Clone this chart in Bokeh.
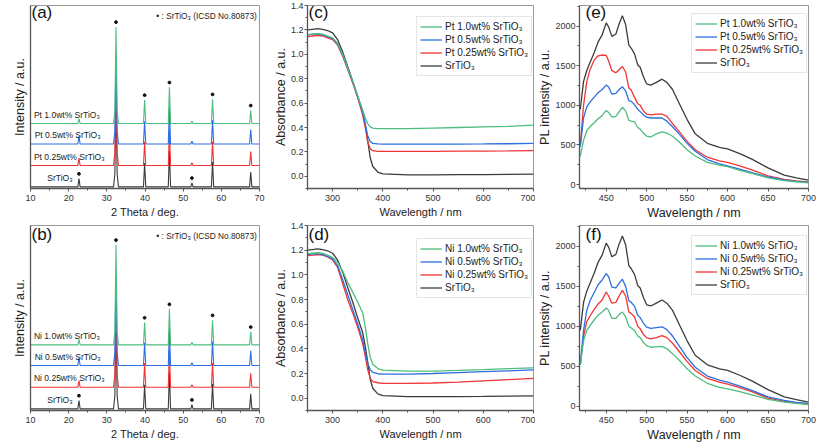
from bokeh.plotting import figure
from bokeh.layouts import gridplot
from bokeh.models import Range1d, FixedTicker, PrintfTickFormatter, Label, Legend, LegendItem
from bokeh.embed import file_html
from bokeh.resources import INLINE
from bokeh.core.properties import value

FONT = "Liberation Sans"
C_GREEN = "#4cbd7e"
C_BLUE = "#2c6fe0"
C_RED = "#ef3535"
C_BLACK = "#3c3c3c"

# ---------------- XRD data ----------------
xrd_2theta = [10, 22.4, 22.7, 23.0, 31.75, 32.1, 32.4, 32.7, 33.05, 39.6, 39.9, 40.2,
              46.1, 46.4, 46.7, 52.0, 52.3, 52.6, 57.4, 57.7, 58.0, 67.4, 67.7, 68.0, 70]
xrd_offsets = [0.9, 12.6, 24.3, 35.5]  # SrTiO3, 0.25, 0.5, 1.0 stack offsets
xrd_black = [0, 0, 4.5, 0, 0, 7, 48, 7, 0, 0, 13, 0, 0, 20, 0, 0, 2.2, 0, 0, 13.5, 0, 0, 8.1, 0, 0]
xrd_pt025 = [0, 0, 4.0, 0, 0, 7, 46, 7, 0, 0, 13, 0, 0, 20, 0, 0, 1.5, 0, 0, 13, 0, 0, 7.6, 0, 0]
xrd_pt05 = [0, 0, 4.3, 0, 0, 7, 47, 7, 0, 0, 12.5, 0, 0, 20, 0, 0, 1.5, 0, 0, 13, 0, 0, 7.9, 0, 0]
xrd_pt10 = [0, 0, 2.7, 0, 0, 7, 52.8, 7, 0, 0, 12.9, 0, 0, 19.8, 0, 0, 1.2, 0, 0, 13.3, 0, 0, 7.2, 0, 0]
xrd_ni025 = [0, 0, 3.5, 0, 0, 7, 46, 7, 0, 0, 13, 0, 0, 20, 0, 0, 1.3, 0, 0, 13, 0, 0, 7.5, 0, 0]
xrd_ni05 = [0, 0, 4.5, 0, 0, 7, 47, 7, 0, 0, 12.5, 0, 0, 20, 0, 0, 1.6, 0, 0, 13, 0, 0, 8.0, 0, 0]
xrd_ni10 = [0, 0, 3.0, 0, 0, 7, 54, 7, 0, 0, 12, 0, 0, 19.3, 0, 0, 1.3, 0, 0, 13.3, 0, 0, 7.0, 0, 0]
xrd_top_dot_idx = [6, 10, 13, 19, 22]
xrd_black_dot_idx = [2, 16]
xrd_labels_pt = ["SrTiO\u2083", "Pt 0.25wt% SrTiO\u2083", "Pt 0.5wt% SrTiO\u2083", "Pt 1.0wt% SrTiO\u2083"]
xrd_labels_ni = ["SrTiO\u2083", "Ni 0.25wt% SrTiO\u2083", "Ni 0.5wt% SrTiO\u2083", "Ni 1.0wt% SrTiO\u2083"]
xrd_label_x = [14.4, 10.9, 11.1, 10.9]
xrd_ticks = [10, 20, 30, 40, 50, 60, 70]
icsd_note = "\u2022 : SrTiO\u2083 (ICSD No.80873)"

# ---------------- UV-vis absorbance ----------------
abs_x = [250, 260, 270, 280, 290, 300, 310, 320, 330, 340, 350, 360, 365, 370, 375, 380,
         390, 400, 450, 500, 550, 600, 650, 700]
abs_sto = [1.20, 1.205, 1.21, 1.205, 1.195, 1.175, 1.12, 1.02, 0.90, 0.78, 0.65, 0.53, 0.42,
           0.29, 0.15, 0.08, 0.035, 0.02, 0.012, 0.012, 0.013, 0.014, 0.016, 0.018]
abs_pt10 = [1.16, 1.165, 1.17, 1.165, 1.15, 1.135, 1.09, 1.00, 0.89, 0.78, 0.66, 0.54, 0.48,
            0.43, 0.405, 0.395, 0.39, 0.39, 0.39, 0.395, 0.40, 0.405, 0.41, 0.42]
abs_pt05 = [1.16, 1.165, 1.165, 1.16, 1.145, 1.13, 1.085, 0.995, 0.885, 0.775, 0.655, 0.52, 0.43,
            0.33, 0.285, 0.27, 0.265, 0.263, 0.263, 0.263, 0.264, 0.265, 0.267, 0.27]
abs_pt025 = [1.145, 1.15, 1.155, 1.15, 1.135, 1.12, 1.075, 0.985, 0.875, 0.765, 0.645, 0.50, 0.40,
             0.28, 0.225, 0.21, 0.205, 0.205, 0.205, 0.205, 0.206, 0.207, 0.208, 0.21]
abs_ni10 = [1.17, 1.175, 1.18, 1.175, 1.16, 1.14, 1.10, 1.03, 0.94, 0.86, 0.78, 0.69, 0.58,
            0.44, 0.33, 0.275, 0.24, 0.228, 0.22, 0.22, 0.225, 0.232, 0.24, 0.245]
abs_ni05 = [1.165, 1.17, 1.17, 1.165, 1.15, 1.13, 1.075, 0.96, 0.84, 0.72, 0.60, 0.47, 0.37,
            0.28, 0.23, 0.21, 0.198, 0.195, 0.195, 0.20, 0.207, 0.215, 0.222, 0.23]
abs_ni025 = [1.155, 1.16, 1.165, 1.16, 1.145, 1.12, 1.06, 0.93, 0.80, 0.69, 0.575, 0.44, 0.34,
             0.23, 0.16, 0.135, 0.125, 0.12, 0.12, 0.123, 0.13, 0.14, 0.15, 0.16]
abs_yticks = [0.0, 0.2, 0.4, 0.6, 0.8, 1.0, 1.2, 1.4]
abs_xticks = [300, 400, 500, 600, 700]

# ---------------- PL spectra ----------------
pl_x = [418, 422, 426, 430, 435, 440, 445, 450, 453, 457, 462, 466, 470, 474, 478, 481, 485,
        489, 492, 496, 500, 505, 512, 519, 525, 532, 540, 550, 560, 575, 590, 600, 615, 630,
        650, 670, 685, 700]
pl_sto = [950, 1300, 1440, 1540, 1660, 1800, 1890, 2040, 1990, 1870, 1900, 2030, 2130, 2020,
          1760, 1720, 1650, 1510, 1480, 1360, 1270, 1255, 1290, 1330, 1290, 1200, 1030, 820,
          640, 520, 470, 450, 390, 320, 210, 120, 85, 55]
pl_pt10 = [360, 560, 680, 730, 780, 830, 870, 935, 910, 850, 860, 920, 975, 930, 810, 800, 790,
           720, 700, 650, 610, 600, 640, 665, 650, 610, 540, 440, 360, 280, 245, 225, 180, 140,
           85, 50, 35, 22]
pl_pt05 = [480, 840, 980, 1040, 1100, 1160, 1200, 1255, 1230, 1140, 1150, 1200, 1235, 1180,
           1060, 1050, 1010, 950, 920, 880, 850, 840, 840, 840, 800, 730, 640, 520, 420, 315,
           260, 235, 195, 150, 95, 60, 40, 28]
pl_pt025 = [500, 1000, 1300, 1450, 1570, 1625, 1635, 1630, 1560, 1440, 1410, 1450, 1490, 1420,
            1220, 1190, 1100, 1020, 1000, 930, 890, 880, 890, 890, 860, 770, 670, 545, 440, 345,
            300, 280, 235, 185, 110, 65, 45, 32]
pl_ni10 = [520, 820, 950, 1010, 1080, 1140, 1180, 1230, 1200, 1100, 1100, 1150, 1180, 1120,
           1000, 980, 950, 880, 860, 800, 760, 740, 745, 750, 720, 660, 580, 470, 380, 290,
           240, 220, 185, 145, 90, 55, 38, 25]
pl_ni05 = [520, 950, 1200, 1320, 1420, 1520, 1580, 1660, 1620, 1490, 1480, 1540, 1590, 1500,
           1320, 1300, 1250, 1140, 1110, 1040, 990, 975, 985, 995, 960, 880, 760, 610, 490, 380,
           330, 305, 255, 200, 120, 75, 52, 38]
pl_ni025 = [520, 880, 1060, 1130, 1210, 1280, 1330, 1430, 1380, 1290, 1300, 1380, 1450, 1380,
            1180, 1160, 1120, 1000, 970, 900, 860, 845, 860, 885, 860, 790, 690, 560, 450, 350,
            305, 280, 235, 185, 105, 65, 45, 32]
pl_xticks = [450, 500, 550, 600, 650, 700]
pl_yticks = [0, 500, 1000, 1500, 2000]

# ---------------- layout constants ----------------
COLW = [(30, 229, 11), (33, 230, 2), (44, 229, 8)]  # left border, frame, right border
ROWH = [(5, 185, 32), (3, 185, 34)]                 # top border, frame, bottom border
LABEL_X = [1, 1, 6]


def base_fig(xr, yr, col, row, xtitle_size):
    bl, fw, br = COLW[col]
    bt, fh, bb = ROWH[row]
    p = figure(width=bl + fw + br, height=bt + fh + bb, x_range=Range1d(*xr), y_range=Range1d(*yr),
               output_backend="svg", toolbar_location=None,
               min_border_left=bl, min_border_right=br, min_border_top=bt, min_border_bottom=bb)
    p.xgrid.visible = False
    p.ygrid.visible = False
    p.outline_line_color = "#9a9a9a"
    p.outline_line_width = 1
    for ax in (p.xaxis[0], p.yaxis[0]):
        ax.axis_line_color = "#555555"
        ax.axis_line_width = 1.3
        ax.major_tick_line_color = "#555555"
        ax.minor_tick_line_color = "#555555"
        ax.major_tick_in = 0
        ax.major_tick_out = 3
        ax.minor_tick_in = 0
        ax.minor_tick_out = 2
        ax.major_label_text_font = FONT
        ax.major_label_text_font_size = "9px"
        ax.major_label_text_color = "#333333"
        ax.axis_label_text_font = FONT
        ax.axis_label_text_font_style = "normal"
        ax.axis_label_text_color = "#222222"
    p.xaxis.major_label_standoff = 3
    p.xaxis.axis_label_standoff = 2
    p.yaxis.major_label_standoff = 1
    p.yaxis.axis_label_standoff = 0
    p.xaxis.axis_label_text_font_size = xtitle_size
    p.yaxis.axis_label_text_font_size = "12.5px"
    return p, bl, fw, fh


def panel_label(p, fh, txt, col):
    p.add_layout(Label(x=LABEL_X[col], y=fh + 1, x_units="screen", y_units="screen", text=txt,
                       text_font=FONT, text_font_size="17px", text_color="#111111",
                       text_baseline="top", text_align="left"))


def xrd_panel(series, labels, col, row, tag):
    p, bl, fw, fh = base_fig((10, 70), (0, 100), col, row, "11px")
    p.xaxis.ticker = FixedTicker(ticks=xrd_ticks, minor_ticks=[t + 5 for t in xrd_ticks[:-1]])
    p.yaxis.ticker = FixedTicker(ticks=[])
    p.yaxis.major_label_text_font_size = "0px"
    p.yaxis.axis_label_standoff = 4
    p.xaxis.axis_label = "2 Theta / deg."
    p.yaxis.axis_label = "Intensity / a.u."
    colors = [C_BLACK, C_RED, C_BLUE, C_GREEN]
    for ys, off, c in zip(series, xrd_offsets, colors):
        p.line(xrd_2theta, [off + v for v in ys], line_color=c, line_width=1.1)
    top = series[3]
    dx = [xrd_2theta[i] for i in xrd_top_dot_idx] + [xrd_2theta[i] for i in xrd_black_dot_idx]
    dy = [xrd_offsets[3] + top[i] + 2.6 for i in xrd_top_dot_idx] + \
         [xrd_offsets[0] + series[0][i] + 2.6 for i in xrd_black_dot_idx]
    p.scatter(dx, dy, size=2.8, color="#111111")
    p.text(x=xrd_label_x, y=[o + 2.0 for o in xrd_offsets], text=labels,
           text_font=value(FONT), text_font_size="8.5px", text_color="#222222",
           text_baseline="bottom", text_align="left")
    p.add_layout(Label(x=69.3, y=94.5, text=icsd_note, text_font=FONT, text_font_size="8.3px",
                       text_color="#222222", text_align="right", text_baseline="middle"))
    panel_label(p, fh, tag, col)
    return p


def add_legend(p, items, loc, lh, pad):
    lg = Legend(items=[LegendItem(label=t, renderers=[r]) for t, r in items],
                location=loc, margin=0, padding=pad, spacing=0,
                label_text_font=FONT, label_text_font_size="10px", label_text_color="#222222",
                label_height=lh, glyph_height=lh, glyph_width=22, label_standoff=3,
                border_line_color="#cccccc", border_line_width=1, background_fill_alpha=1)
    p.add_layout(lg)


def abs_panel(curves, names, col, row, tag):
    p, bl, fw, fh = base_fig((250, 700), (-0.1, 1.4), col, row, "11px")
    p.xaxis.ticker = FixedTicker(ticks=abs_xticks, minor_ticks=[250, 350, 450, 550, 650])
    p.yaxis.ticker = FixedTicker(ticks=abs_yticks,
                                 minor_ticks=[-0.1, 0.1, 0.3, 0.5, 0.7, 0.9, 1.1, 1.3])
    p.yaxis.formatter = PrintfTickFormatter(format="%.1f")
    p.xaxis.axis_label = "Wavelength / nm"
    p.yaxis.axis_label = "Absorbance / a.u."
    colors = [C_BLACK, C_RED, C_BLUE, C_GREEN]
    rs = [p.line(abs_x, ys, line_color=c, line_width=1.3) for ys, c in zip(curves, colors)]
    add_legend(p, [(names[3], rs[3]), (names[2], rs[2]), (names[1], rs[1]), (names[0], rs[0])],
               (fw - 11 - 110, fh - 13 - 60), 13, 3)
    panel_label(p, fh, tag, col)
    return p


def pl_panel(curves, names, col, row, tag):
    p, bl, fw, fh = base_fig((417, 700), (-50, 2260), col, row, "12.5px")
    p.xaxis.ticker = FixedTicker(ticks=pl_xticks, minor_ticks=[425, 475, 525, 575, 625, 675])
    p.yaxis.ticker = FixedTicker(ticks=pl_yticks, minor_ticks=[250, 750, 1250, 1750, 2250])
    p.xaxis.axis_label = "Wavelength / nm"
    p.yaxis.axis_label = "PL intensity / a.u."
    colors = [C_BLACK, C_RED, C_BLUE, C_GREEN]
    rs = [p.line(pl_x, ys, line_color=c, line_width=1.3) for ys, c in zip(curves, colors)]
    add_legend(p, [(names[3], rs[3]), (names[2], rs[2]), (names[1], rs[1]), (names[0], rs[0])],
               (fw - 5 - 112, fh - 12 - 58), 13, 3)
    panel_label(p, fh, tag, col)
    return p


pa = xrd_panel([xrd_black, xrd_pt025, xrd_pt05, xrd_pt10], xrd_labels_pt, 0, 0, "(a)")
pb = xrd_panel([xrd_black, xrd_ni025, xrd_ni05, xrd_ni10], xrd_labels_ni, 0, 1, "(b)")
pc = abs_panel([abs_sto, abs_pt025, abs_pt05, abs_pt10], xrd_labels_pt, 1, 0, "(c)")
pd = abs_panel([abs_sto, abs_ni025, abs_ni05, abs_ni10], xrd_labels_ni, 1, 1, "(d)")
pe = pl_panel([pl_sto, pl_pt025, pl_pt05, pl_pt10], xrd_labels_pt, 2, 0, "(e)")
pf = pl_panel([pl_sto, pl_ni025, pl_ni05, pl_ni10], xrd_labels_ni, 2, 1, "(f)")

grid = gridplot([[pa, pc, pe], [pb, pd, pf]], toolbar_location=None)
open("out.html", "w").write(file_html(grid, INLINE))
